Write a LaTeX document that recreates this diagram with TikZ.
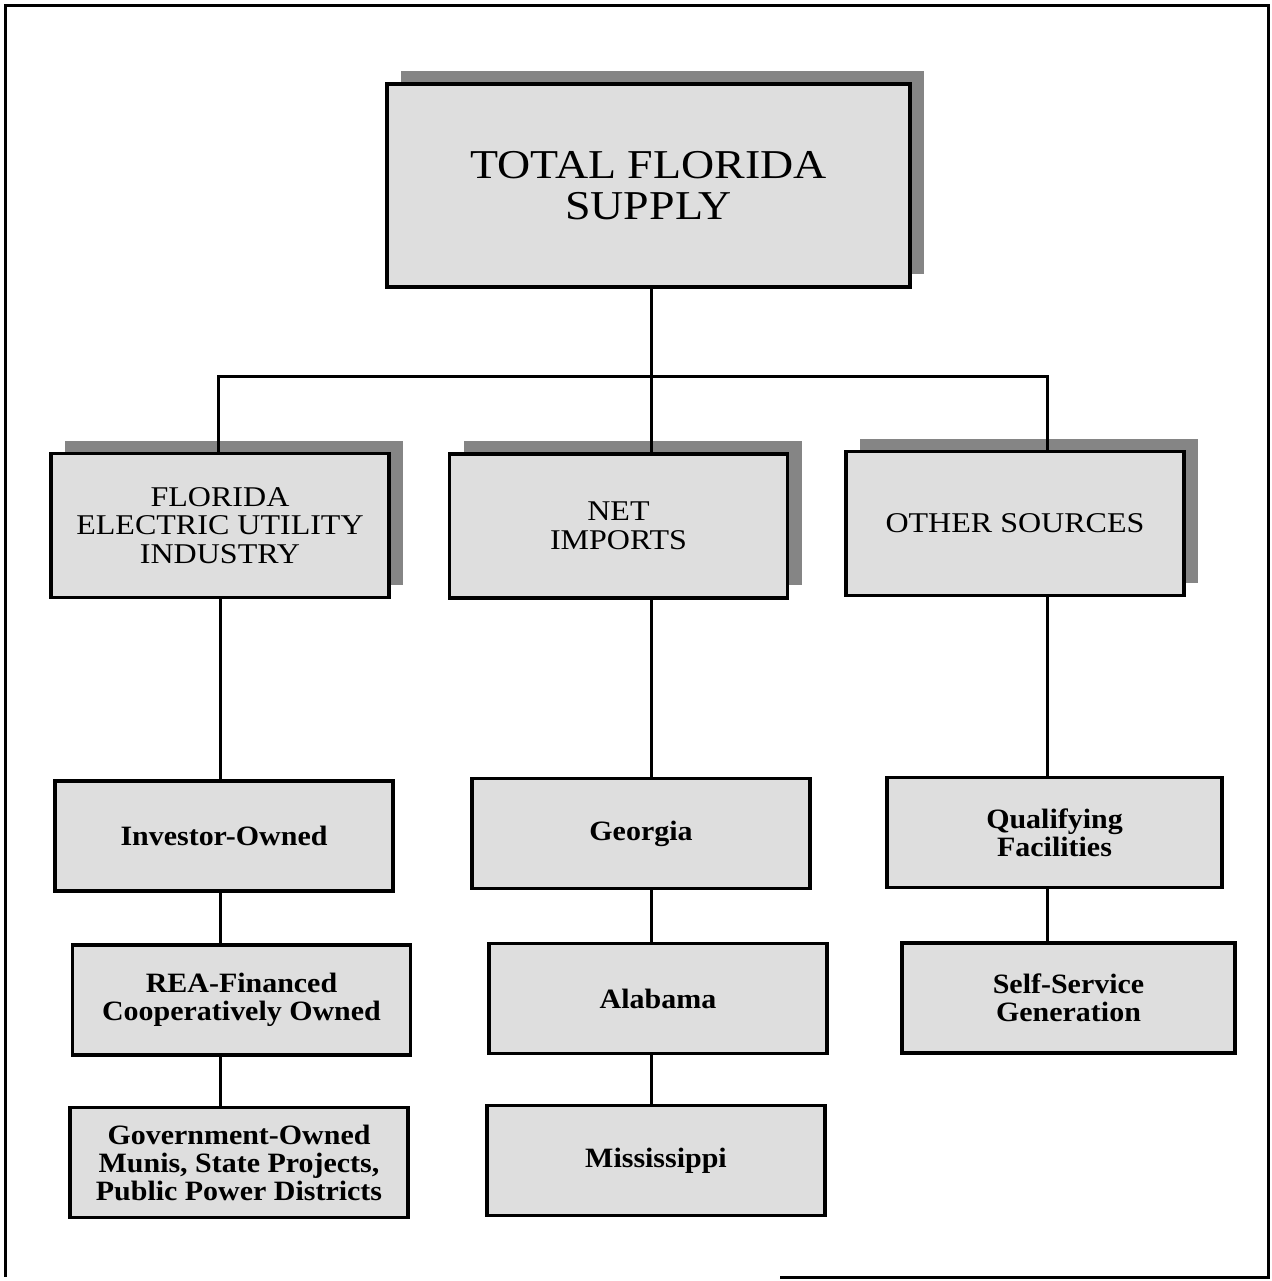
\documentclass[tikz,border=0pt]{standalone}
\usepackage{fontspec}
\setmainfont{Liberation Serif}
\newfontfamily\headfont[FakeStretch=1.12]{Liberation Serif}
\newfontfamily\subfont[FakeStretch=1.07]{Liberation Serif}
\usetikzlibrary{shadows}
\definecolor{boxgray}{gray}{0.87}
\definecolor{shadegray}{gray}{0.52}
\tikzset{
  shadowed/.style={general shadow={shadow xshift=7pt,shadow yshift=6.5pt,fill=shadegray}},
  topbox/.style={draw,line width=1.6pt,fill=boxgray,shadowed,minimum width=261.5pt,minimum height=101.5pt,inner sep=0pt,align=center,font=\headfont\fontsize{20.5}{20.5}\selectfont},
  headbox/.style={draw,line width=1.6pt,fill=boxgray,shadowed,minimum width=169pt,minimum height=72pt,inner sep=0pt,align=center,font=\headfont\fontsize{14.3}{14.3}\selectfont},
  subbox/.style={draw,line width=1.6pt,fill=boxgray,minimum width=169pt,minimum height=55pt,inner sep=0pt,align=center,font=\subfont\bfseries\fontsize{14}{14}\selectfont},
  link/.style={line width=1.5pt}
}
\begin{document}
\begin{tikzpicture}[x=0.5pt,y=-0.5pt]
        \useasboundingbox (0,0) rectangle (1272,1281);
        %% frame
        \draw[line width=1.5pt] (780,1277) -- (1268,1277) -- (1268,5) -- (5,5) -- (5,1277);
        %% top
        \node[topbox] (total) at (648.5,185.5) {TOTAL FLORIDA\\SUPPLY};
        %% second row
        \node[headbox] (util) at (220,525.5) {FLORIDA\\ELECTRIC UTILITY\\INDUSTRY};
        \node[headbox] (imp) at (618.5,526) {NET\\IMPORTS};
        \node[headbox] (other) at (1015,523.5) {OTHER SOURCES};
        %% third row
        \node[subbox] (inv) at (224,836) {Investor-Owned};
        \node[subbox] (rea) at (241.5,1000) {REA-Financed\\Cooperatively Owned};
        \node[subbox] (gov) at (239,1162.5) {Government-Owned\\Munis, State Projects,\\Public Power Districts};
        \node[subbox] (geo) at (641,833.5) {Georgia};
        \node[subbox] (ala) at (658,998.5) {Alabama};
        \node[subbox] (mis) at (656,1160.5) {Mississippi};
        \node[subbox,minimum width=167.5pt] (qf) at (1054.5,832.5) {Qualifying\\Facilities};
        \node[subbox,minimum width=166.5pt] (ss) at (1068.5,998) {Self-Service\\Generation};
        %% links
        \coordinate (colA) at (218,376);
        \coordinate (bus) at (651,376);
        \coordinate (colC) at (1047,376);
        \draw[link] (total.south -| bus) -- (imp.north -| bus);
        \draw[link] (util.north -| colA) -- (colA) -- (colC) -- (other.north -| colC);
        \draw[link] (util.south) -- (util.south |- inv.north);
        \draw[link] (inv.south -| util.south) -- (rea.north -| util.south);
        \draw[link] (rea.south -| util.south) -- (gov.north -| util.south);
        \draw[link] (imp.south -| bus) -- (geo.north -| bus);
        \draw[link] (geo.south -| bus) -- (ala.north -| bus);
        \draw[link] (ala.south -| bus) -- (mis.north -| bus);
        \draw[link] (other.south -| colC) -- (qf.north -| colC);
        \draw[link] (qf.south -| colC) -- (ss.north -| colC);
\end{tikzpicture}
\end{document}
